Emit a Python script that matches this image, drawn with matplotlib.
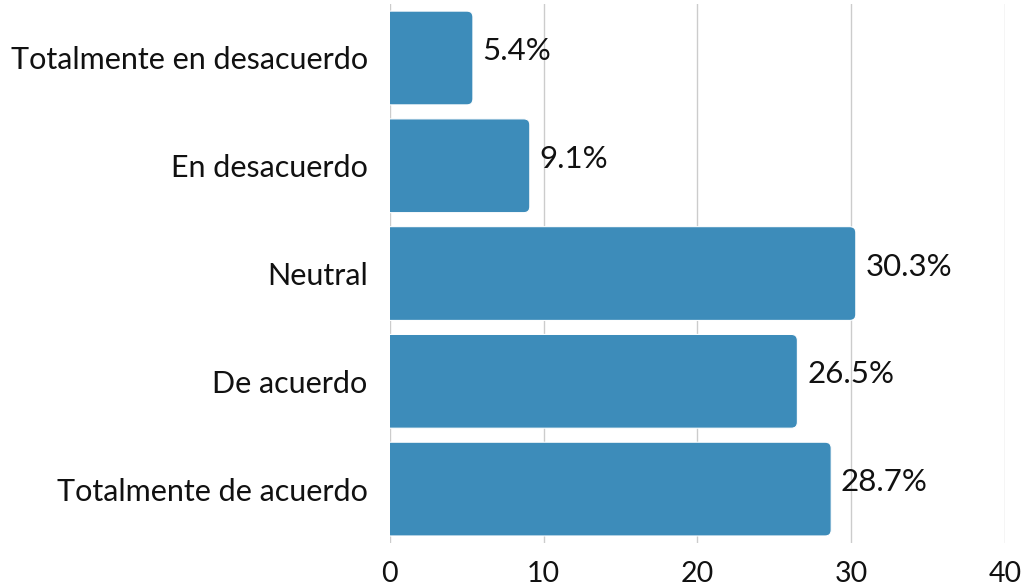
import matplotlib
matplotlib.use("Agg")
import matplotlib.pyplot as plt
from matplotlib.patches import FancyBboxPatch

categories = ["Totalmente en desacuerdo", "En desacuerdo", "Neutral", "De acuerdo", "Totalmente de acuerdo"]
values = [5.4, 9.1, 30.3, 26.5, 28.7]
xticks = [0, 10, 20, 30, 40]

plt.rcParams['font.family'] = ['Lato', 'DejaVu Sans']
color = "#3d8cba"

fig = plt.figure(figsize=(10.26, 5.87), dpi=100)
ax = fig.add_axes([0.380, 0.075, 0.5995, 0.918])

ypos = list(range(len(categories)))
bars = ax.barh(ypos, values, height=0.87, color=color)
ax.set_xlim(0, 40)
ax.set_ylim(len(categories) - 0.5, -0.5)

# replace bars with rounded rectangles
xr = 0.39
aspect = (6 / 107.75) / (6 / 15.375)
for b in bars:
    x0, y0 = b.get_x(), b.get_y()
    w, h = b.get_width(), b.get_height()
    b.set_visible(False)
    p = FancyBboxPatch((x0 - 1, y0), w + 1, h,
                       boxstyle=f"round,pad=0,rounding_size={xr}",
                       mutation_aspect=aspect, facecolor=color,
                       edgecolor="white", linewidth=0.8, zorder=3)
    ax.add_patch(p)

for y, v in zip(ypos, values):
    ax.annotate(f"{v}%", xy=(v, y), xytext=(7, 5), textcoords="offset points",
                va="center", ha="left", fontsize=22.5, color="#111111", zorder=4)

ax.set_yticks(ypos)
ax.set_yticklabels(categories, fontsize=22, color="#111111")
ax.set_xticks(xticks)
ax.set_xticklabels([str(t) for t in xticks], fontsize=20.5, color="#111111")
ax.tick_params(axis="y", length=0, pad=16)
ax.tick_params(axis="x", length=0, pad=13)
ax.grid(axis="x", color="#cccccc", linewidth=1, zorder=0)
ax.set_axisbelow(True)
for s in ax.spines.values():
    s.set_visible(False)

fig.savefig("out.png", dpi=100)
